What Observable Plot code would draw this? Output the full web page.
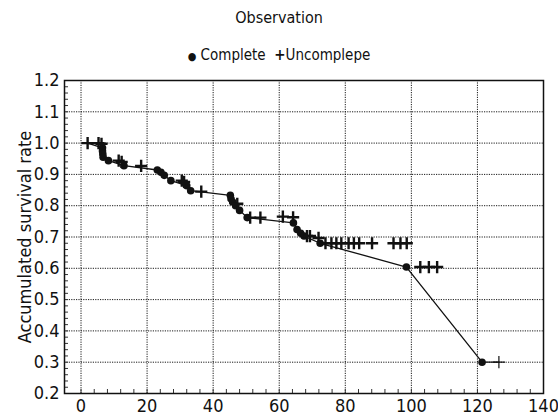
<!DOCTYPE html>
<html>
<head>
<meta charset="utf-8">
<script src="https://cdn.jsdelivr.net/npm/d3@7"></script>
<script src="https://cdn.jsdelivr.net/npm/@observablehq/plot@0.6"></script>
<style>
  body { margin: 0; background: #fff; font-family: "DejaVu Sans", sans-serif; font-stretch: condensed; }
  svg text { font-stretch: condensed; }
  #head { width: 558px; height: 70px; position: relative; color: #111; }
  #title { position: absolute; top: 8px; width: 100%; text-align: center; font-size: 16px; }
  #legend { position: absolute; top: 46px; width: 100%; text-align: center; font-size: 15px; }
</style>
</head>
<body>
<div id="head">
  <div id="title">Observation</div>
  <div id="legend"><span style="font-size:11px">●</span> Complete &nbsp;<span style="font-weight:bold">+</span>Uncomplepe</div>
</div>
<div id="chart"></div>
<script>
// Complete observations (time, survival)
const completeTime = [6.5, 6.5, 6.6, 6.7, 8.3, 13, 23.1, 24.2, 25.2, 27.2, 32, 33.2, 45.2, 45.4, 45.9, 46.8, 48, 50.3, 64.3, 65.4, 66.5, 67.5, 72.4, 98.5, 121.4];
const completeSurv = [0.985, 0.975, 0.965, 0.955, 0.944, 0.928, 0.914, 0.907, 0.897, 0.880, 0.864, 0.848, 0.833, 0.822, 0.812, 0.800, 0.785, 0.762, 0.745, 0.724, 0.712, 0.703, 0.680, 0.604, 0.300];
// Censored (uncomplete) observations
const censorTime = [2, 5.3, 6.2, 11.4, 12.3, 18.2, 30.5, 31.2, 36.4, 47.3, 51.2, 54.3, 61.1, 64.2, 68.4, 69.3, 71.9, 74, 75.8, 77.3, 78.8, 81, 82.6, 84.2, 88.1, 94.6, 96.7, 98.6, 102.7, 105.3, 107.8, 126.5];
const censorSurv = [1.0, 1.0, 0.998, 0.944, 0.940, 0.927, 0.880, 0.876, 0.845, 0.806, 0.762, 0.762, 0.765, 0.763, 0.703, 0.703, 0.697, 0.68, 0.68, 0.68, 0.68, 0.68, 0.68, 0.68, 0.68, 0.68, 0.68, 0.68, 0.604, 0.604, 0.604, 0.300];

const xTicks = [0, 20, 40, 60, 80, 100, 120, 140];
const yTicks = [0.2, 0.3, 0.4, 0.5, 0.6, 0.7, 0.8, 0.9, 1.0, 1.1, 1.2];
const xMinor = d3.range(0, 141, 4);
const yMinor = d3.range(0.2, 1.2001, 0.02);

const complete = completeTime.map((t, i) => ({t, s: completeSurv[i]}));
const censored = censorTime.map((t, i) => ({t, s: censorSurv[i]}));
const lineData = [censored[0], ...complete, censored[censored.length - 1]];
const censoredMain = censored.slice(0, -1);
const censoredLast = censored.slice(-1);

const H = 349, mT = 10, mB = 26;
const plotH = H - mT - mB;
const mL = 64, mR = 15;
const plotW = 558 - mL - mR;

const chart = Plot.plot({
  width: 558,
  height: H,
  marginLeft: mL,
  marginRight: mR,
  marginTop: mT,
  marginBottom: mB,
  style: {fontFamily: '"DejaVu Sans", sans-serif', fontSize: "17px", color: "#111", background: "#fff"},
  x: {domain: [-5, 140]},
  y: {domain: [0.2, 1.2]},
  marks: [
    Plot.gridX(xTicks, {stroke: "#000", strokeOpacity: 0.9, strokeDasharray: "1.2,1.2"}),
    Plot.gridY(yTicks, {stroke: "#000", strokeOpacity: 0.9, strokeDasharray: "1.2,1.2"}),
    Plot.tickX(xMinor, {x: d => d, stroke: "#333", insetTop: plotH - 4}),
    Plot.tickY(yMinor, {y: d => d, stroke: "#333", insetRight: plotW - 4}),
    Plot.frame({stroke: "#111", strokeWidth: 1.5}),
    Plot.axisX(xTicks, {tickSize: 0, tickPadding: 6, fontSize: 18, label: null}),
    Plot.axisY(yTicks, {tickSize: 0, tickPadding: 5, fontSize: 18, tickFormat: d3.format(".1f"), label: "Accumulated survival rate", labelAnchor: "center", labelArrow: "none", labelOffset: 46}),
    Plot.line(lineData, {x: "t", y: "s", stroke: "#111", strokeWidth: 1.3}),
    Plot.dot(complete, {x: "t", y: "s", r: 3.8, fill: "#111", stroke: "none"}),
    Plot.dot(censoredMain, {x: "t", y: "s", r: 4, symbol: "plus", stroke: "#111", strokeWidth: 2.4}),
    Plot.dot(censoredLast, {x: "t", y: "s", r: 4, symbol: "plus", stroke: "#111", strokeWidth: 1.2})
  ]
});
document.getElementById("chart").appendChild(chart);
</script>
</body>
</html>
